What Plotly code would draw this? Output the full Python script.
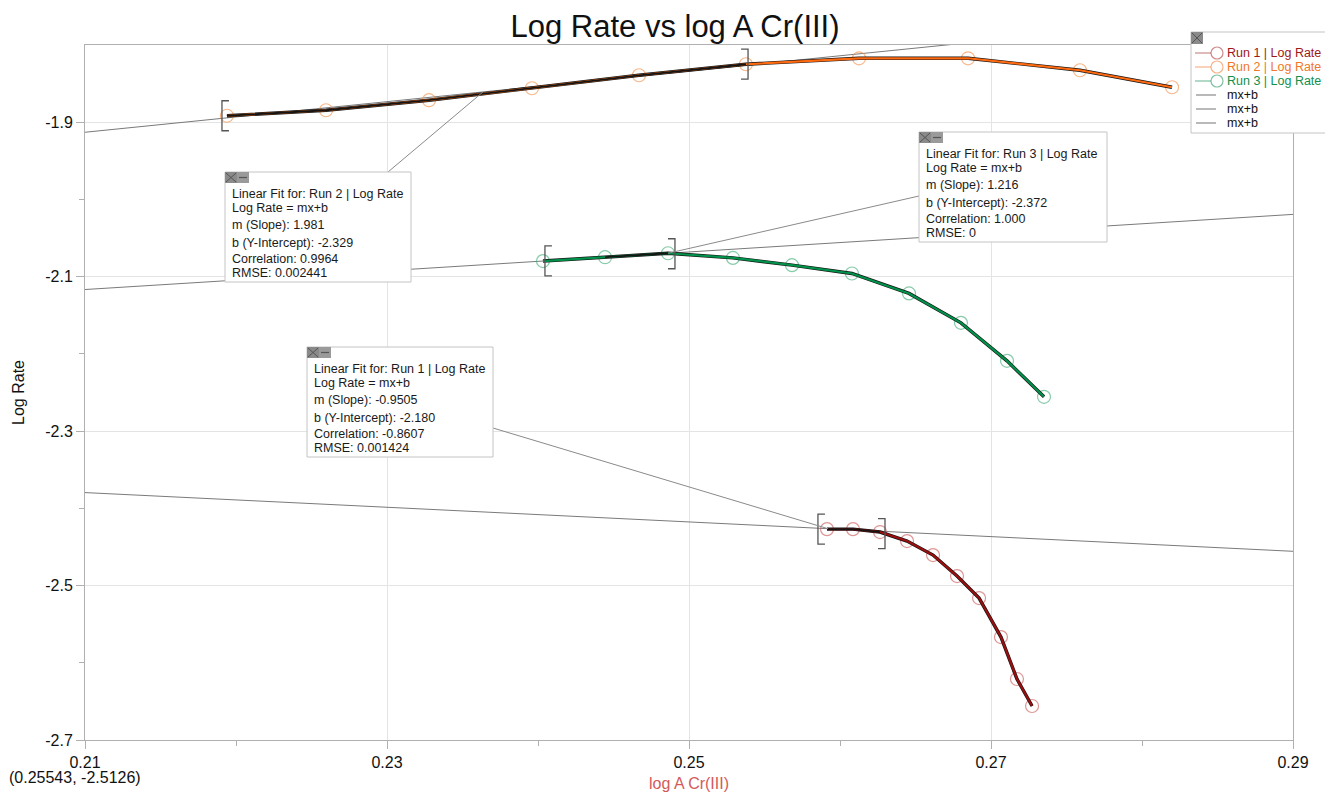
import plotly.graph_objects as go
import numpy as np

# ---------------- data ----------------
run1_x = [0.25914, 0.26086, 0.26265, 0.26444, 0.26616, 0.26775, 0.26921, 0.27066, 0.27172, 0.27272]
run1_y = [-2.4269, -2.4269, -2.4307, -2.4424, -2.4605, -2.4877, -2.5162, -2.5667, -2.6210, -2.6560]

run2_x = [0.21940, 0.22596, 0.23278, 0.23960, 0.24669, 0.25377, 0.26126, 0.26848, 0.27589, 0.28199]
run2_y = [-1.8916, -1.8845, -1.8715, -1.8560, -1.8392, -1.8249, -1.8172, -1.8172, -1.8327, -1.8547]

run3_x = [0.24033, 0.24444, 0.24861, 0.25291, 0.25682, 0.26079, 0.26457, 0.26801, 0.27106, 0.27351]
run3_y = [-2.0798, -2.0748, -2.0697, -2.0757, -2.0851, -2.0959, -2.1217, -2.1598, -2.2090, -2.2556]

run_names = ["Run 1 | Log Rate", "Run 2 | Log Rate", "Run 3 | Log Rate"]
fit_slope = [-0.9505, 1.981, 1.216]
fit_intercept = [-2.180, -2.329, -2.372]
fit_slope_text = ["-0.9505", "1.981", "1.216"]
fit_intercept_text = ["-2.180", "-2.329", "-2.372"]
fit_corr_text = ["-0.8607", "0.9964", "1.000"]
fit_rmse_text = ["0.001424", "0.002441", "0"]
# selected x-range for each linear fit (bracket positions)
fit_sel_lo = [0.25854, 0.21907, 0.24046]
fit_sel_hi = [0.26298, 0.25391, 0.24907]

x_ticks = [0.21, 0.23, 0.25, 0.27, 0.29]
y_ticks = [-2.7, -2.5, -2.3, -2.1, -1.9]
cursor_text = "(0.25543, -2.5126)"

# ---------------- style ----------------
FONT = "Liberation Sans, Arial, sans-serif"
W, H = 1325, 795
ML, MR, MT, MB = 85, 32, 45, 55
PW, PH = W - ML - MR, H - MT - MB
XR = [0.21, 0.29]
YR = [-2.7, -1.8]

line_col = ["#9a0f0f", "#ff6a10", "#00914a"]
mark_col = ["rgba(205,95,95,0.65)", "rgba(245,145,75,0.65)", "rgba(70,175,125,0.65)"]
text_col = ["#a01818", "#f07828", "#12904c"]
legend_line_col = ["rgba(170,60,60,0.6)", "rgba(240,130,60,0.6)", "rgba(40,150,100,0.6)"]

def px(x):
    return (x - ML) / PW

def py(y):
    return (H - MB - y) / PH

def d2px(x):
    return ML + (x - XR[0]) / (XR[1] - XR[0]) * PW

def d2py(y):
    return H - MB - (y - YR[0]) / (YR[1] - YR[0]) * PH

runs_x = [run1_x, run2_x, run3_x]
runs_y = [run1_y, run2_y, run3_y]

fig = go.Figure()

# fit lines over full axis
for i in range(3):
    fx = np.array(XR)
    fy = fit_slope[i] * fx + fit_intercept[i]
    fig.add_trace(go.Scatter(x=fx, y=fy, mode="lines", name="mx+b",
                             line=dict(color="#7a7a7a", width=1), showlegend=False,
                             hoverinfo="skip"))

# data
for i in range(3):
    x = runs_x[i]
    y = runs_y[i]
    fig.add_trace(go.Scatter(x=x, y=y, mode="markers", showlegend=False,
                             marker=dict(symbol="circle-open", size=13, color=mark_col[i],
                                         line=dict(width=1.2)),
                             hoverinfo="skip"))
    fig.add_trace(go.Scatter(x=x, y=y, mode="lines", showlegend=False,
                             line=dict(color="#151515", width=3.4), hoverinfo="skip"))
    fig.add_trace(go.Scatter(x=x, y=y, mode="lines", name=run_names[i], showlegend=False,
                             line=dict(color=line_col[i], width=2.2)))
    # selected region highlight
    xs = np.array(x)
    mask = (xs >= fit_sel_lo[i]) & (xs <= fit_sel_hi[i])
    fig.add_trace(go.Scatter(x=xs[mask], y=np.array(y)[mask], mode="lines", showlegend=False,
                             line=dict(color="#151515", width=1.8), hoverinfo="skip"))

shapes = []
annotations = []

# brackets
arm = 7 / PW * (XR[1] - XR[0])
hh = 15 / PH * (YR[1] - YR[0])
for i in range(3):
    for side, xb in (("l", fit_sel_lo[i]), ("r", fit_sel_hi[i])):
        yc = float(np.interp(xb, runs_x[i], runs_y[i]))
        a = arm if side == "l" else -arm
        shapes.append(dict(type="path", xref="x", yref="y", layer="above",
                           path=f"M {xb + a},{yc + hh} L {xb},{yc + hh} L {xb},{yc - hh} L {xb + a},{yc - hh}",
                           line=dict(color="#555555", width=1.3)))

# fit annotation boxes (pixel boxes), connector box point, connector fit x
boxes = {
    1: dict(b=(225, 172, 411, 282), cp=(388, 172), fx=0.23636),
    2: dict(b=(919, 132, 1107, 242), cp=(919, 196), fx=0.24861),
    0: dict(b=(307, 347, 493, 457), cp=(493, 428), fx=0.25921),
}
line_offsets = [22, 36, 53, 71, 87, 101]
for i, bx in boxes.items():
    fxv = bx["fx"]
    fyv = fit_slope[i] * fxv + fit_intercept[i]
    shapes.append(dict(type="line", xref="paper", yref="paper", layer="above",
                       x0=px(bx["cp"][0]), y0=py(bx["cp"][1]),
                       x1=px(d2px(fxv)), y1=py(d2py(fyv)),
                       line=dict(color="#8a8a8a", width=1)))
for i, bx in boxes.items():
    x0, y0, x1, y1 = bx["b"]
    shapes.append(dict(type="rect", xref="paper", yref="paper", layer="above",
                       x0=px(x0), x1=px(x1), y0=py(y1), y1=py(y0),
                       fillcolor="white", line=dict(color="#c4c4c4", width=1)))
    shapes.append(dict(type="rect", xref="paper", yref="paper", layer="above",
                       x0=px(x0), x1=px(x0 + 12), y0=py(y0 + 11), y1=py(y0),
                       fillcolor="#8a8a8a", line=dict(width=0)))
    shapes.append(dict(type="rect", xref="paper", yref="paper", layer="above",
                       x0=px(x0 + 12), x1=px(x0 + 24), y0=py(y0 + 11), y1=py(y0),
                       fillcolor="#9a9a9a", line=dict(width=0)))
    shapes.append(dict(type="path", xref="paper", yref="paper", layer="above",
                       path=f"M {px(x0+1)},{py(y0+1)} L {px(x0+11)},{py(y0+10)} M {px(x0+1)},{py(y0+10)} L {px(x0+11)},{py(y0+1)}",
                       line=dict(color="#555555", width=1)))
    shapes.append(dict(type="line", xref="paper", yref="paper", layer="above",
                       x0=px(x0 + 14), x1=px(x0 + 22), y0=py(y0 + 5.5), y1=py(y0 + 5.5),
                       line=dict(color="#555555", width=1.2)))
    lines = [f"Linear Fit for: {run_names[i]}", "Log Rate = mx+b",
             f"m (Slope): {fit_slope_text[i]}", f"b (Y-Intercept): {fit_intercept_text[i]}",
             f"Correlation: {fit_corr_text[i]}", f"RMSE: {fit_rmse_text[i]}"]
    for k, t in enumerate(lines):
        annotations.append(dict(text=t, xref="paper", yref="paper", x=px(x0 + 5), y=py(y0 + line_offsets[k]),
                                xanchor="left", yanchor="middle", showarrow=False,
                                font=dict(family=FONT, size=12.5, color="#1a1a1a")))

# legend (manual, Logger Pro style)
LX0, LY0, LX1, LY1 = 1191, 32, 1332, 133
shapes.append(dict(type="rect", xref="paper", yref="paper", layer="above",
                   x0=px(LX0), x1=px(LX1), y0=py(LY1), y1=py(LY0),
                   fillcolor="white", line=dict(color="#c4c4c4", width=1)))
shapes.append(dict(type="rect", xref="paper", yref="paper", layer="above",
                   x0=px(LX0), x1=px(LX0 + 12), y0=py(LY0 + 12), y1=py(LY0),
                   fillcolor="#8a8a8a", line=dict(width=0)))
shapes.append(dict(type="path", xref="paper", yref="paper", layer="above",
                   path=f"M {px(LX0+1)},{py(LY0+1)} L {px(LX0+11)},{py(LY0+11)} M {px(LX0+1)},{py(LY0+11)} L {px(LX0+11)},{py(LY0+1)}",
                   line=dict(color="#555555", width=1)))
leg_labels = run_names + ["mx+b", "mx+b", "mx+b"]
for k, lab in enumerate(leg_labels):
    yy = 53 + 14 * k
    if k < 3:
        lc = legend_line_col[k]
        shapes.append(dict(type="line", xref="paper", yref="paper", layer="above",
                           x0=px(1195), x1=px(1211), y0=py(yy), y1=py(yy),
                           line=dict(color=lc, width=1.2)))
        shapes.append(dict(type="circle", xref="paper", yref="paper", layer="above",
                           x0=px(1211), x1=px(1223), y0=py(yy + 6), y1=py(yy - 6),
                           line=dict(color=lc, width=1.2)))
        tc = text_col[k]
    else:
        shapes.append(dict(type="line", xref="paper", yref="paper", layer="above",
                           x0=px(1196), x1=px(1216), y0=py(yy), y1=py(yy),
                           line=dict(color="#8a8a8a", width=1.2)))
        tc = "#111111"
    annotations.append(dict(text=lab, xref="paper", yref="paper", x=px(1225), y=py(yy),
                            xanchor="left", yanchor="middle", showarrow=False,
                            font=dict(family=FONT, size=12.5, color=tc)))

# cursor readout
annotations.append(dict(text=cursor_text, xref="paper", yref="paper", x=px(7), y=py(777),
                        xanchor="left", yanchor="middle", showarrow=False,
                        font=dict(family=FONT, size=16, color="#111111")))

fig.update_layout(
    width=W, height=H,
    margin=dict(l=ML, r=MR, t=MT, b=MB, autoexpand=False),
    paper_bgcolor="white", plot_bgcolor="white",
    font=dict(family=FONT, size=16, color="#111111"),
    title=dict(text="Log Rate vs log A Cr(III)", x=px(675), xref="paper", xanchor="center",
               y=1 - 26 / H, yref="container", yanchor="middle",
               font=dict(family=FONT, size=31, color="#111111")),
    shapes=shapes, annotations=annotations,
    showlegend=False,
)
fig.update_xaxes(range=XR, tickvals=x_ticks, ticktext=[f"{v:.2f}" for v in x_ticks],
                 showgrid=True, gridcolor="#e4e4e4", gridwidth=1,
                 showline=True, linecolor="#b0b0b0", linewidth=1, mirror=True,
                 ticks="outside", ticklen=8, tickcolor="#b0b0b0",
                 minor=dict(tickvals=[0.22, 0.24, 0.26, 0.28], ticks="outside", ticklen=5,
                            tickcolor="#b0b0b0", showgrid=False),
                 zeroline=False,
                 tickfont=dict(family=FONT, size=16, color="#111111"),
                 title=dict(text="log A Cr(III)", standoff=7,
                            font=dict(family=FONT, size=16, color="#d45a5a")))
fig.update_yaxes(range=YR, tickvals=y_ticks, ticktext=[f"{v:.1f}" for v in y_ticks],
                 showgrid=True, gridcolor="#e4e4e4", gridwidth=1,
                 showline=True, linecolor="#b0b0b0", linewidth=1, mirror=True,
                 ticks="outside", ticklen=8, tickcolor="#b0b0b0",
                 minor=dict(tickvals=[-2.6, -2.4, -2.2, -2.0], ticks="outside", ticklen=5,
                            tickcolor="#b0b0b0", showgrid=False),
                 zeroline=False,
                 tickfont=dict(family=FONT, size=16, color="#111111"),
                 title=dict(text="Log Rate", standoff=16,
                            font=dict(family=FONT, size=16, color="#111111")))

fig.write_html("out.html")
